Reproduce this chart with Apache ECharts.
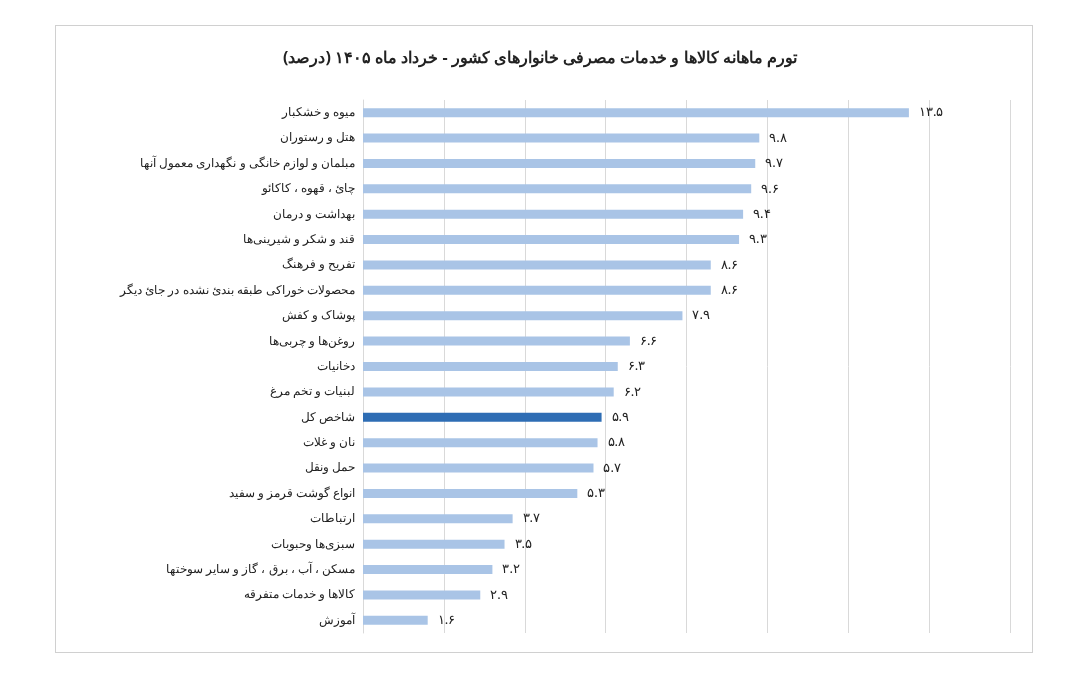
<!DOCTYPE html>
<html><head><meta charset="utf-8">
<script src="https://cdn.jsdelivr.net/npm/echarts@6/dist/echarts.min.js"></script>
<style>body{margin:0;background:#fff}#main{width:1080px;height:688px}
#box{position:absolute;left:55px;top:25px;width:976px;height:626px;border:1px solid #d0d0d0}</style>
</head><body><div id="box"></div><div id="main" style="position:absolute;left:0;top:0"></div>
<script>
var categories=['میوه و خشکبار','هتل و رستوران','مبلمان و لوازم خانگی و نگهداری معمول آنها','چائ ، قهوه ، کاکائو','بهداشت و درمان','قند و شکر و شیرینی‌ها','تفریح و فرهنگ','محصولات خوراکی طبقه بندئ نشده در جائ دیگر','پوشاک و کفش','روغن‌ها و چربی‌ها','دخانیات','لبنیات و تخم مرغ','شاخص کل','نان و غلات','حمل ونقل','انواع گوشت قرمز و سفید','ارتباطات','سبزی‌ها وحبوبات','مسکن ، آب ، برق ، گاز و سایر سوختها','کالاها و خدمات متفرقه','آموزش'];
var values=[13.5,9.8,9.7,9.6,9.4,9.3,8.6,8.6,7.9,6.6,6.3,6.2,5.9,5.8,5.7,5.3,3.7,3.5,3.2,2.9,1.6];
var highlight='شاخص کل';
function fa(v){return String(v.toFixed(1)).replace(/\d/g,function(d){return '۰۱۲۳۴۵۶۷۸۹'[d];});}
var chart=echarts.init(document.getElementById('main'));
chart.setOption({
  title:{text:'تورم ماهانه کالاها و خدمات مصرفی خانوارهای کشور - خرداد ماه ۱۴۰۵ (درصد)',left:'center',top:45,
    textStyle:{fontFamily:'Noto Sans',fontSize:16,fontWeight:'bold',color:'#222'}},
  grid:{left:363,right:70,top:100,bottom:55},
  xAxis:{type:'value',min:0,max:16,interval:2,axisLabel:{show:false},axisLine:{show:false},axisTick:{show:false},
    splitLine:{lineStyle:{color:'#d9d9d9'}}},
  yAxis:{type:'category',inverse:true,data:categories,axisTick:{show:false},
    axisLine:{lineStyle:{color:'#d9d9d9'}},
    axisLabel:{fontFamily:'Noto Sans',fontSize:12,fontWeight:500,color:'#222',margin:8}},
  series:[{type:'bar',barWidth:9,data:values.map(function(v,i){
      return {value:v,itemStyle:{color:categories[i]===highlight?'#2e6db4':'#a9c4e6'}};}),
    label:{show:true,position:'right',distance:10,fontFamily:'Noto Sans',fontSize:13,color:'#222',
      formatter:function(p){return fa(p.value);}}}]
});
</script></body></html>
